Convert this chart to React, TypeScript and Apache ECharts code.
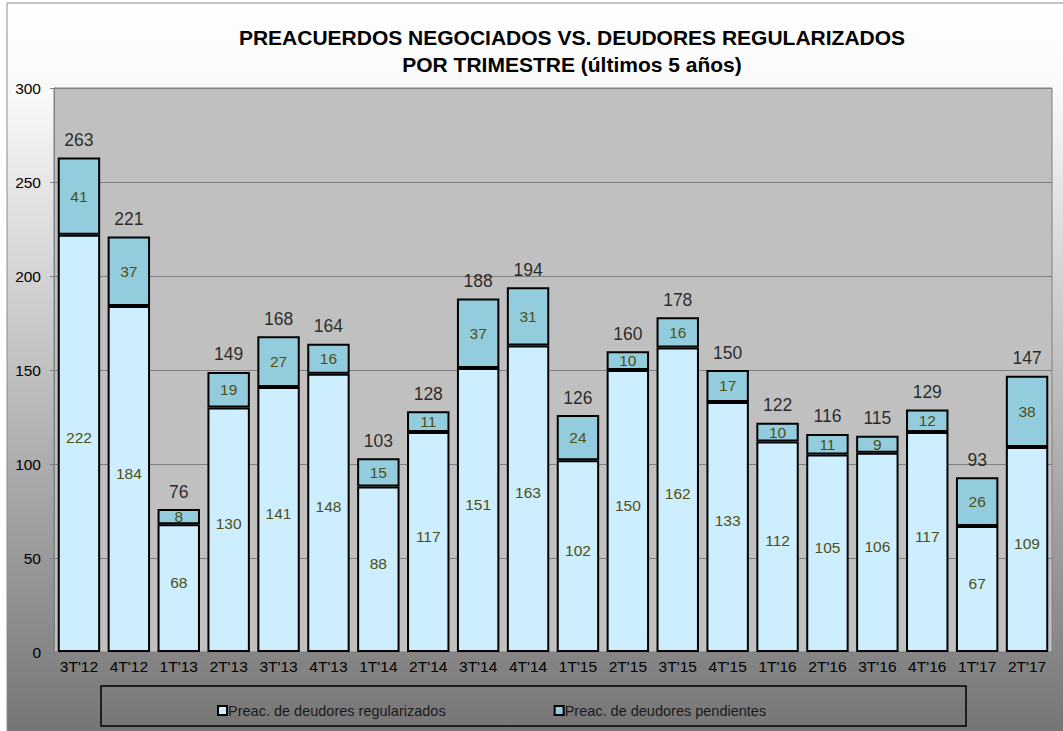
import React, { useEffect, useRef } from "react";
import * as echarts from "echarts";

const categories = ["3T'12", "4T'12", "1T'13", "2T'13", "3T'13", "4T'13", "1T'14", "2T'14", "3T'14", "4T'14", "1T'15", "2T'15", "3T'15", "4T'15", "1T'16", "2T'16", "3T'16", "4T'16", "1T'17", "2T'17"];
const regularizados = [222, 184, 68, 130, 141, 148, 88, 117, 151, 163, 102, 150, 162, 133, 112, 105, 106, 117, 67, 109];
const pendientes = [41, 37, 8, 19, 27, 16, 15, 11, 37, 31, 24, 10, 16, 17, 10, 11, 9, 12, 26, 38];
const totals = [263, 221, 76, 149, 168, 164, 103, 128, 188, 194, 126, 160, 178, 150, 122, 116, 115, 129, 93, 147];
const yTicks = { min: 0, max: 300, interval: 50 };

const FONT = "'Liberation Sans', Arial, sans-serif";

export default function App() {
  const ref = useRef<HTMLDivElement>(null);
  useEffect(() => {
    if (!ref.current) return;
    const chart = echarts.init(ref.current, undefined, { renderer: "svg" });
    chart.setOption({
      animation: false,
      backgroundColor: "#ffffff",
      textStyle: { fontFamily: FONT },
      title: {
        text: "PREACUERDOS NEGOCIADOS VS. DEUDORES REGULARIZADOS\nPOR TRIMESTRE (últimos 5 años)",
        left: 567,
        top: 19,
        textAlign: "center",
        textStyle: { fontFamily: FONT, fontSize: 21, fontWeight: "bold", color: "#000", lineHeight: 27 },
      },
      graphic: [
        {
          type: "rect",
          z: -10,
          silent: true,
          shape: { x: 7, y: 3, width: 1070, height: 745 },
          style: {
            fill: new echarts.graphic.LinearGradient(0, 0, 0, 1, [
              { offset: 0, color: "#ffffff" },
              { offset: 0.12, color: "#f9f9f9" },
              { offset: 1, color: "#727272" },
            ]),
            stroke: "#8c8c8c",
            lineWidth: 1,
          },
        },
        {
          type: "rect",
          silent: true,
          shape: { x: 101, y: 686, width: 865, height: 40 },
          style: { fill: "transparent", stroke: "#000", lineWidth: 1.5 },
        },
      ],
      legend: {
        left: 212,
        top: 698,
        itemGap: 108,
        itemWidth: 9,
        itemHeight: 9,
        icon: "rect",
        data: ["Preac. de deudores regularizados", "Preac. de deudores pendientes"],
        textStyle: { fontFamily: FONT, fontSize: 14.5, color: "#1a1a1a", padding: [0, 0, 0, -4] },
      },
      grid: {
        left: 54,
        right: 11,
        top: 88,
        bottom: 79,
        show: true,
        backgroundColor: "#c0c0c0",
        borderColor: "#808080",
        borderWidth: 1,
      },
      xAxis: {
        type: "category",
        data: categories,
        axisLine: { lineStyle: { color: "#808080", width: 1 } },
        axisTick: { show: true, length: 4, lineStyle: { color: "#808080" } },
        axisLabel: { fontFamily: FONT, fontSize: 15.5, color: "#000", margin: 6 },
      },
      yAxis: {
        type: "value",
        min: yTicks.min,
        max: yTicks.max,
        interval: yTicks.interval,
        axisLine: { show: true, lineStyle: { color: "#808080", width: 1 } },
        axisTick: { show: true, length: 4, lineStyle: { color: "#808080" } },
        splitLine: { lineStyle: { color: "#7f7f7f", width: 1 } },
        axisLabel: { fontFamily: FONT, fontSize: 15.5, color: "#000", margin: 13 },
      },
      series: [
        {
          name: "Preac. de deudores regularizados",
          type: "bar",
          stack: "total",
          data: regularizados,
          barCategoryGap: "15%",
          itemStyle: { color: "#cceeff", borderColor: "#000", borderWidth: 2 },
          label: { show: true, position: "inside", offset: [0, -6], fontFamily: FONT, fontSize: 15.5, color: "#4f4f14" },
        },
        {
          name: "Preac. de deudores pendientes",
          type: "bar",
          stack: "total",
          data: pendientes,
          itemStyle: { color: "#93cddd", borderColor: "#000", borderWidth: 2 },
          label: { show: true, position: "inside", fontFamily: FONT, fontSize: 15.5, color: "#4f4f14" },
        },
        {
          name: "Total",
          type: "scatter",
          data: totals,
          symbolSize: 1,
          itemStyle: { color: "transparent" },
          label: { show: true, position: "top", distance: 8, fontFamily: FONT, fontSize: 17.5, color: "#000" },
          silent: true,
        },
      ],
    });
    return () => chart.dispose();
  }, []);
  return <div ref={ref} style={{ position: "fixed", left: 0, top: 0, width: 1063, height: 731 }} />;
}
